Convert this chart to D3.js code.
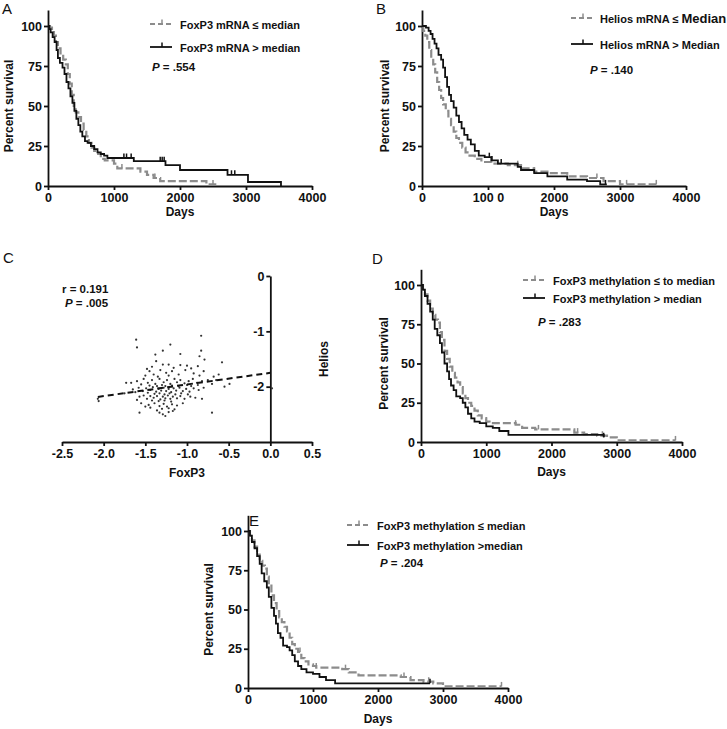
<!DOCTYPE html>
<html>
<head>
<meta charset="utf-8">
<script src="https://cdn.jsdelivr.net/npm/d3@7"></script>
<style>
body { margin: 0; background: #fff; }
svg text { font-family: "Liberation Sans", Arial, sans-serif; }
</style>
</head>
<body>
<svg id="fig" width="727" height="729"></svg>
<script>
// ---- data ----
const dayTicks = [0, 1000, 2000, 3000, 4000]
const dayLabels = ["0", "1000", "2000", "3000", "4000"]
const dayLabelsB = ["0", "100 0", "2000", "3000", "4000"]
const pctTicks = [0, 25, 50, 75, 100]

// [day, percent survival] step points
const aHigh = [[0,100],[20,98],[40,96],[70,93],[100,90],[130,85],[150,80],[180,77],[220,74],[250,70],[280,65],[310,61],[340,56],[370,52],[400,47],[430,42],[460,38],[490,34],[520,31],[560,28],[600,27],[650,25],[700,23],[750,21],[800,20],[850,19],[900,17.5],[1300,15.5],[1780,13],[2000,10],[2720,7],[3030,2.5],[3530,0]]
const aLow = [[0,100],[30,99],[60,97],[90,94],[120,90],[150,86],[190,82],[230,79],[270,76],[300,70],[330,64],[360,57],[390,50],[420,46],[460,43],[500,39],[540,35],[580,31],[620,27],[660,24],[700,22],[760,20],[800,17],[860,16],[1000,14],[1050,11],[1400,9],[1500,7],[1600,5],[1700,3],[2400,1],[2550,1]]
const aHighCens = [1150, 1190, 1260, 1700, 1730, 1760, 2780, 2830]
const aLowCens = [1120, 1620, 2500]

const bHigh = [[0,100],[60,99],[100,97],[130,95],[160,92],[190,89],[220,86],[250,82],[290,79],[320,74],[350,68],[380,62],[410,57],[440,53],[480,49],[520,44],[560,40],[600,36],[640,32],[690,29],[740,26],[800,22],[860,19],[950,18],[1050,16],[1150,14],[1450,12],[1500,10],[1700,8],[1900,6],[2200,4],[2500,3],[2700,1],[2800,1]]
const bLow = [[0,100],[20,97],[50,94],[80,90],[110,85],[140,80],[170,76],[200,71],[230,65],[260,60],[290,55],[320,51],[360,47],[400,42],[440,38],[480,34],[520,30],[560,27],[610,24],[660,21],[720,19],[800,17],[900,15],[1050,14],[1300,13],[1500,11],[1700,9],[1900,8],[2200,6],[2500,5],[2750,3],[3000,1],[3550,1]]
const bHighCens = [1020, 1060, 1200, 2780]
const bLowCens = [1450, 1700, 2650, 3100, 3550]

const dHigh = [[0,100],[30,97],[60,93],[100,88],[140,83],[180,78],[210,72],[250,68],[290,63],[320,57],[360,50],[400,45],[430,40],[460,36],[500,33],[540,29],[600,28],[640,25],[680,22],[720,18],[770,15],[820,13],[900,12],[1000,10],[1100,9],[1200,7],[1340,4.5],[2800,3]]
const dLow = [[0,100],[30,97],[60,94],[100,90],[140,85],[180,81],[220,78],[260,76],[290,70],[320,65],[360,58],[400,53],[440,48],[480,44],[520,41],[560,38],[600,35],[640,31],[680,28],[720,25],[770,23],[820,20],[870,17],[930,15],[1000,13],[1050,12],[1450,11],[1550,9],[1750,8],[2350,6],[2500,5],[2700,4],[2850,3],[3000,1],[3900,1]]
const dHighCens = [2800]
const dLowCens = [1000, 1450, 1800, 2400, 2780, 3900]

const eHigh = [[0,100],[30,97],[60,93],[100,89],[140,84],[180,79],[210,73],[250,68],[290,64],[320,58],[360,51],[400,46],[430,41],[460,35],[500,32],[540,27],[600,26],[640,24],[680,21],[720,17],[770,14],[820,12],[900,10],[1000,9],[1100,7],[1200,5],[1340,3],[2800,3]]
const eLow = [[0,100],[30,97],[60,94],[100,90],[140,85],[180,81],[220,78],[260,76],[290,71],[320,66],[360,59],[400,54],[440,49],[480,45],[520,42],[560,39],[600,36],[640,32],[680,28],[720,25],[770,23],[820,19],[870,17],[930,15],[1000,14],[1050,13],[1450,12],[1550,10],[1700,8],[2350,7],[2500,5],[2700,4],[2850,3],[3000,1],[3900,1]]
const eHighCens = [2800]
const eLowCens = [800, 1050, 1500, 2400, 2780, 3900]

// panel C: FoxP3 vs Helios
const foxp3Ticks = [-2.5, -2.0, -1.5, -1.0, -0.5, 0.0, 0.5]
const heliosTicks = [0, -1, -2]
const regSlope = 0.21
const regIntercept = -1.75
const regFrom = -2.07
const scatterPts = [
[-1.45,-1.72],[-1.40,-1.78],[-1.32,-1.70],[-1.25,-1.75],[-1.18,-1.72],[-1.10,-1.78],[-1.02,-1.70],[-0.92,-1.76],[-0.80,-1.72],[-1.50,-1.80],[-1.35,-1.82],[-1.22,-1.80],[-0.85,-1.80],[-0.68,-1.82],[-0.62,-1.78],
[-1.60,-1.90],[-1.52,-1.86],[-1.47,-1.93],[-1.42,-1.88],[-1.38,-1.95],[-1.33,-1.86],[-1.28,-1.92],[-1.24,-1.88],[-1.20,-1.95],[-1.15,-1.86],[-1.12,-1.92],[-1.08,-1.88],[-1.03,-1.94],[-0.98,-1.90],[-0.93,-1.86],[-0.88,-1.93],[-0.82,-1.90],[-0.75,-1.88],[-0.70,-1.95],[-1.55,-1.96],[-1.45,-1.98],[-1.36,-1.99],[-1.30,-1.97],[-1.26,-1.99],[-1.18,-1.98],[-1.10,-1.99],[-1.00,-1.97],[-0.95,-1.99],[-0.87,-1.97],
[-1.65,-2.05],[-1.58,-2.02],[-1.53,-2.08],[-1.49,-2.03],[-1.44,-2.06],[-1.41,-2.01],[-1.37,-2.09],[-1.34,-2.04],[-1.31,-2.07],[-1.28,-2.02],[-1.25,-2.08],[-1.22,-2.04],[-1.19,-2.10],[-1.16,-2.03],[-1.13,-2.07],[-1.09,-2.02],[-1.05,-2.08],[-1.01,-2.04],[-0.97,-2.09],[-0.92,-2.03],[-0.86,-2.06],[-0.80,-2.02],[-1.62,-2.10],[-1.47,-2.11],[-1.39,-2.13],[-1.33,-2.12],[-1.27,-2.14],[-1.21,-2.12],[-1.14,-2.14],[-1.07,-2.12],[-0.99,-2.14],
[-1.57,-2.18],[-1.52,-2.16],[-1.48,-2.22],[-1.44,-2.17],[-1.40,-2.20],[-1.36,-2.17],[-1.32,-2.23],[-1.29,-2.18],[-1.26,-2.21],[-1.23,-2.16],[-1.20,-2.22],[-1.17,-2.18],[-1.12,-2.21],[-1.08,-2.17],[-1.03,-2.22],[-0.96,-2.18],[-0.90,-2.20],[-0.82,-2.22],[-1.60,-2.24],[-1.42,-2.25],[-1.34,-2.26],[-1.27,-2.25],[-1.19,-2.27],
[-1.55,-2.30],[-1.46,-2.33],[-1.39,-2.30],[-1.33,-2.35],[-1.28,-2.31],[-1.24,-2.36],[-1.18,-2.32],[-1.12,-2.34],[-1.05,-2.30],[-1.44,-2.38],[-1.30,-2.40],[-1.22,-2.39],[-1.15,-2.41],[-1.50,-2.36],
[-1.57,-2.47],[-1.33,-2.47],[-1.26,-2.53],[-1.29,-2.50],[-1.17,-2.44],[-1.22,-2.46],[-0.70,-2.47],[-1.36,-2.43],
[-1.61,-1.15],[-1.60,-1.29],[-0.83,-1.08],[-1.20,-1.24],[-1.29,-1.35],[-0.83,-1.35],[-1.08,-1.41],[-1.38,-1.42],[-0.85,-1.45],[-0.79,-1.51],[-0.58,-1.56],[-1.37,-1.54],[-1.29,-1.60],[-1.22,-1.60],[-1.08,-1.61],[-1.00,-1.62],[-0.87,-1.63],[-1.42,-1.64],[-1.48,-1.68],[-1.16,-1.66],[-0.95,-1.67],
[-1.73,-1.93],[-1.67,-1.93],[-2.06,-2.26],[-2.07,-2.22],[-1.75,-2.12],
[-0.49,-1.95],[0.02,-2.03],[-0.65,-1.88],[-0.55,-2.00]
]

const GRAY = "#8c8c8c"
const INK = "#111"
const svg = d3.select("#fig")

function survAt(curve, t) {
  let s = curve[0][1]
  for (const [d, v] of curve) { if (d <= t) s = v; else break }
  return s
}

function styleAxis(a) {
  a.select(".domain").attr("stroke", INK).attr("stroke-width", 1.8)
  a.selectAll(".tick line").attr("stroke", INK).attr("stroke-width", 1.8)
  a.selectAll(".tick text").attr("fill", INK).attr("font-size", "12.5px").attr("font-weight", "bold")
}

function label(g, x, y, txt, opts = {}) {
  return g.append("text").attr("x", x).attr("y", y)
    .attr("font-size", opts.size || "11px")
    .attr("font-weight", opts.weight || "bold")
    .attr("text-anchor", opts.anchor || "start")
    .attr("fill", INK)
    .text(txt)
}

function pText(g, x, y, val) {
  const t = g.append("text").attr("x", x).attr("y", y).attr("font-size", "11.5px").attr("font-weight", "bold").attr("fill", INK)
  t.append("tspan").attr("font-style", "italic").text("P")
  t.append("tspan").text(" = " + val)
}

function kmPanel(o) {
  const g = svg.append("g")
  const x = d3.scaleLinear().domain([0, 4000]).range([o.x0, o.x1])
  const y = d3.scaleLinear().domain([0, 110]).range([o.y0, o.y0 - 110 * o.k])

  const xa = g.append("g").attr("transform", `translate(0,${o.y0})`)
    .call(d3.axisBottom(x).tickValues(dayTicks).tickSize(4).tickSizeOuter(0).tickPadding(3)
      .tickFormat((d, i) => (o.xLabels || dayLabels)[i]))
  styleAxis(xa)
  const ya = g.append("g").attr("transform", `translate(${o.x0},0)`)
    .call(d3.axisLeft(y).tickValues(pctTicks).tickSize(4).tickSizeOuter(0).tickPadding(2))
  styleAxis(ya)

  const line = d3.line().x(d => x(d[0])).y(d => y(d[1])).curve(d3.curveStepAfter)
  const series = [
    { data: o.low, cens: o.lowCens, color: GRAY, w: 2.2, dash: "8,3" },
    { data: o.high, cens: o.highCens, color: INK, w: 1.8, dash: null }
  ]
  series.forEach(s => {
    g.append("path").datum(s.data).attr("d", line).attr("fill", "none")
      .attr("stroke", s.color).attr("stroke-width", s.w).attr("stroke-dasharray", s.dash)
    g.selectAll(null).data(s.cens).join("line")
      .attr("x1", d => x(d)).attr("x2", d => x(d))
      .attr("y1", d => y(survAt(s.data, d))).attr("y2", d => y(survAt(s.data, d)) - 4.5)
      .attr("stroke", s.color).attr("stroke-width", 1.5)
  })

  // axis titles
  label(g, (o.x0 + o.x1) / 2, o.daysY, "Days", { size: "12px", anchor: "middle" })
  g.append("text").attr("transform", `translate(${o.ylabX},${y(50)}) rotate(-90)`)
    .attr("text-anchor", "middle").attr("font-size", "12px").attr("font-weight", "bold").attr("fill", INK)
    .text("Percent survival")
  label(g, o.letter[1], o.letter[2], o.letter[0], { size: "15px", weight: "normal" })

  // legend
  const L = o.legend
  const samples = [
    { y: L.y1, color: GRAY, w: 2.2, dash: "5,3" },
    { y: L.y2, color: INK, w: 1.8, dash: null }
  ]
  samples.forEach(s => {
    g.append("line").attr("x1", L.lx).attr("x2", L.lx + 22).attr("y1", s.y).attr("y2", s.y)
      .attr("stroke", s.color).attr("stroke-width", s.w).attr("stroke-dasharray", s.dash)
    g.append("line").attr("x1", L.lx + 12).attr("x2", L.lx + 12).attr("y1", s.y).attr("y2", s.y - 4.5)
      .attr("stroke", s.color).attr("stroke-width", 1.5)
  })
  const t1 = label(g, L.tx, L.y1 + 5, "")
  L.text1.forEach(p => t1.append("tspan").attr("font-size", p.size || null).text(p.t))
  const t2 = label(g, L.tx, L.y2 + 5, "")
  L.text2.forEach(p => t2.append("tspan").attr("font-size", p.size || null).text(p.t))
  pText(g, L.px, L.py, o.p)
}

kmPanel({
  x0: 48, x1: 312, y0: 186, k: 1.6, high: aHigh, low: aLow, highCens: aHighCens, lowCens: aLowCens,
  daysY: 216, ylabX: 13, letter: ["A", 2, 14], p: ".554",
  legend: { lx: 150, tx: 180, y1: 24, y2: 47, text1: [{ t: "FoxP3 mRNA ≤ median" }], text2: [{ t: "FoxP3 mRNA > median" }], px: 152, py: 71 }
})
kmPanel({
  x0: 422, x1: 686, y0: 186, k: 1.6, high: bHigh, low: bLow, highCens: bHighCens, lowCens: bLowCens,
  daysY: 216, ylabX: 389, letter: ["B", 376, 14], p: ".140", xLabels: dayLabelsB,
  legend: { lx: 571, tx: 600, y1: 18, y2: 44, text1: [{ t: "Helios mRNA ≤ " }, { t: "Median", size: "13px" }], text2: [{ t: "Helios mRNA > Median" }], px: 590, py: 74 }
})
kmPanel({
  x0: 421, x1: 682, y0: 442, k: 1.57, high: dHigh, low: dLow, highCens: dHighCens, lowCens: dLowCens,
  daysY: 476, ylabX: 388, letter: ["D", 372, 264], p: ".283",
  legend: { lx: 523, tx: 553, y1: 280, y2: 298, text1: [{ t: "FoxP3 methylation ≤ to median" }], text2: [{ t: "FoxP3 methylation > median" }], px: 538, py: 326 }
})
kmPanel({
  x0: 248, x1: 508, y0: 688, k: 1.57, high: eHigh, low: eLow, highCens: eHighCens, lowCens: eLowCens,
  daysY: 723, ylabX: 213, letter: ["E", 249, 526], p: ".204",
  legend: { lx: 347, tx: 377, y1: 525, y2: 545, text1: [{ t: "FoxP3 methylation ≤ median" }], text2: [{ t: "FoxP3 methylation >median" }], px: 380, py: 567 }
})

// ---- panel C: scatter ----
{
  const g = svg.append("g")
  const x = d3.scaleLinear().domain([-2.5, 0.5]).range([62, 312])
  const y = d3.scaleLinear().domain([-3, 0]).range([442, 276])

  const xa = g.append("g").attr("transform", `translate(0,${y(-3)})`)
    .call(d3.axisBottom(x).tickValues(foxp3Ticks).tickSize(4).tickSizeOuter(0).tickPadding(3).tickFormat(d => d.toFixed(1)))
  styleAxis(xa)
  const ya = g.append("g").attr("transform", `translate(${x(0)},0)`)
    .call(d3.axisLeft(y).tickValues(heliosTicks).tickSize(4).tickSizeOuter(0).tickPadding(2).tickFormat(d => String(d)))
  styleAxis(ya)

  g.selectAll(null).data(scatterPts).join("circle")
    .attr("cx", d => x(d[0])).attr("cy", d => y(d[1])).attr("r", 1.1).attr("fill", "#333")

  g.append("line")
    .attr("x1", x(regFrom)).attr("y1", y(regIntercept + regSlope * regFrom))
    .attr("x2", x(0)).attr("y2", y(regIntercept))
    .attr("stroke", INK).attr("stroke-width", 2).attr("stroke-dasharray", "6,4")

  label(g, 62, 293, "r = 0.191", { size: "11.5px" })
  pText(g, 65, 307, ".005")
  label(g, (x(-2.5) + x(0.5)) / 2, 477, "FoxP3", { size: "12px", anchor: "middle" })
  g.append("text").attr("transform", `translate(328,${y(-1.5)}) rotate(-90)`)
    .attr("text-anchor", "middle").attr("font-size", "12px").attr("font-weight", "bold").attr("fill", INK)
    .text("Helios")
  label(g, 3, 263, "C", { size: "15px", weight: "normal" })
}
</script>
</body>
</html>
